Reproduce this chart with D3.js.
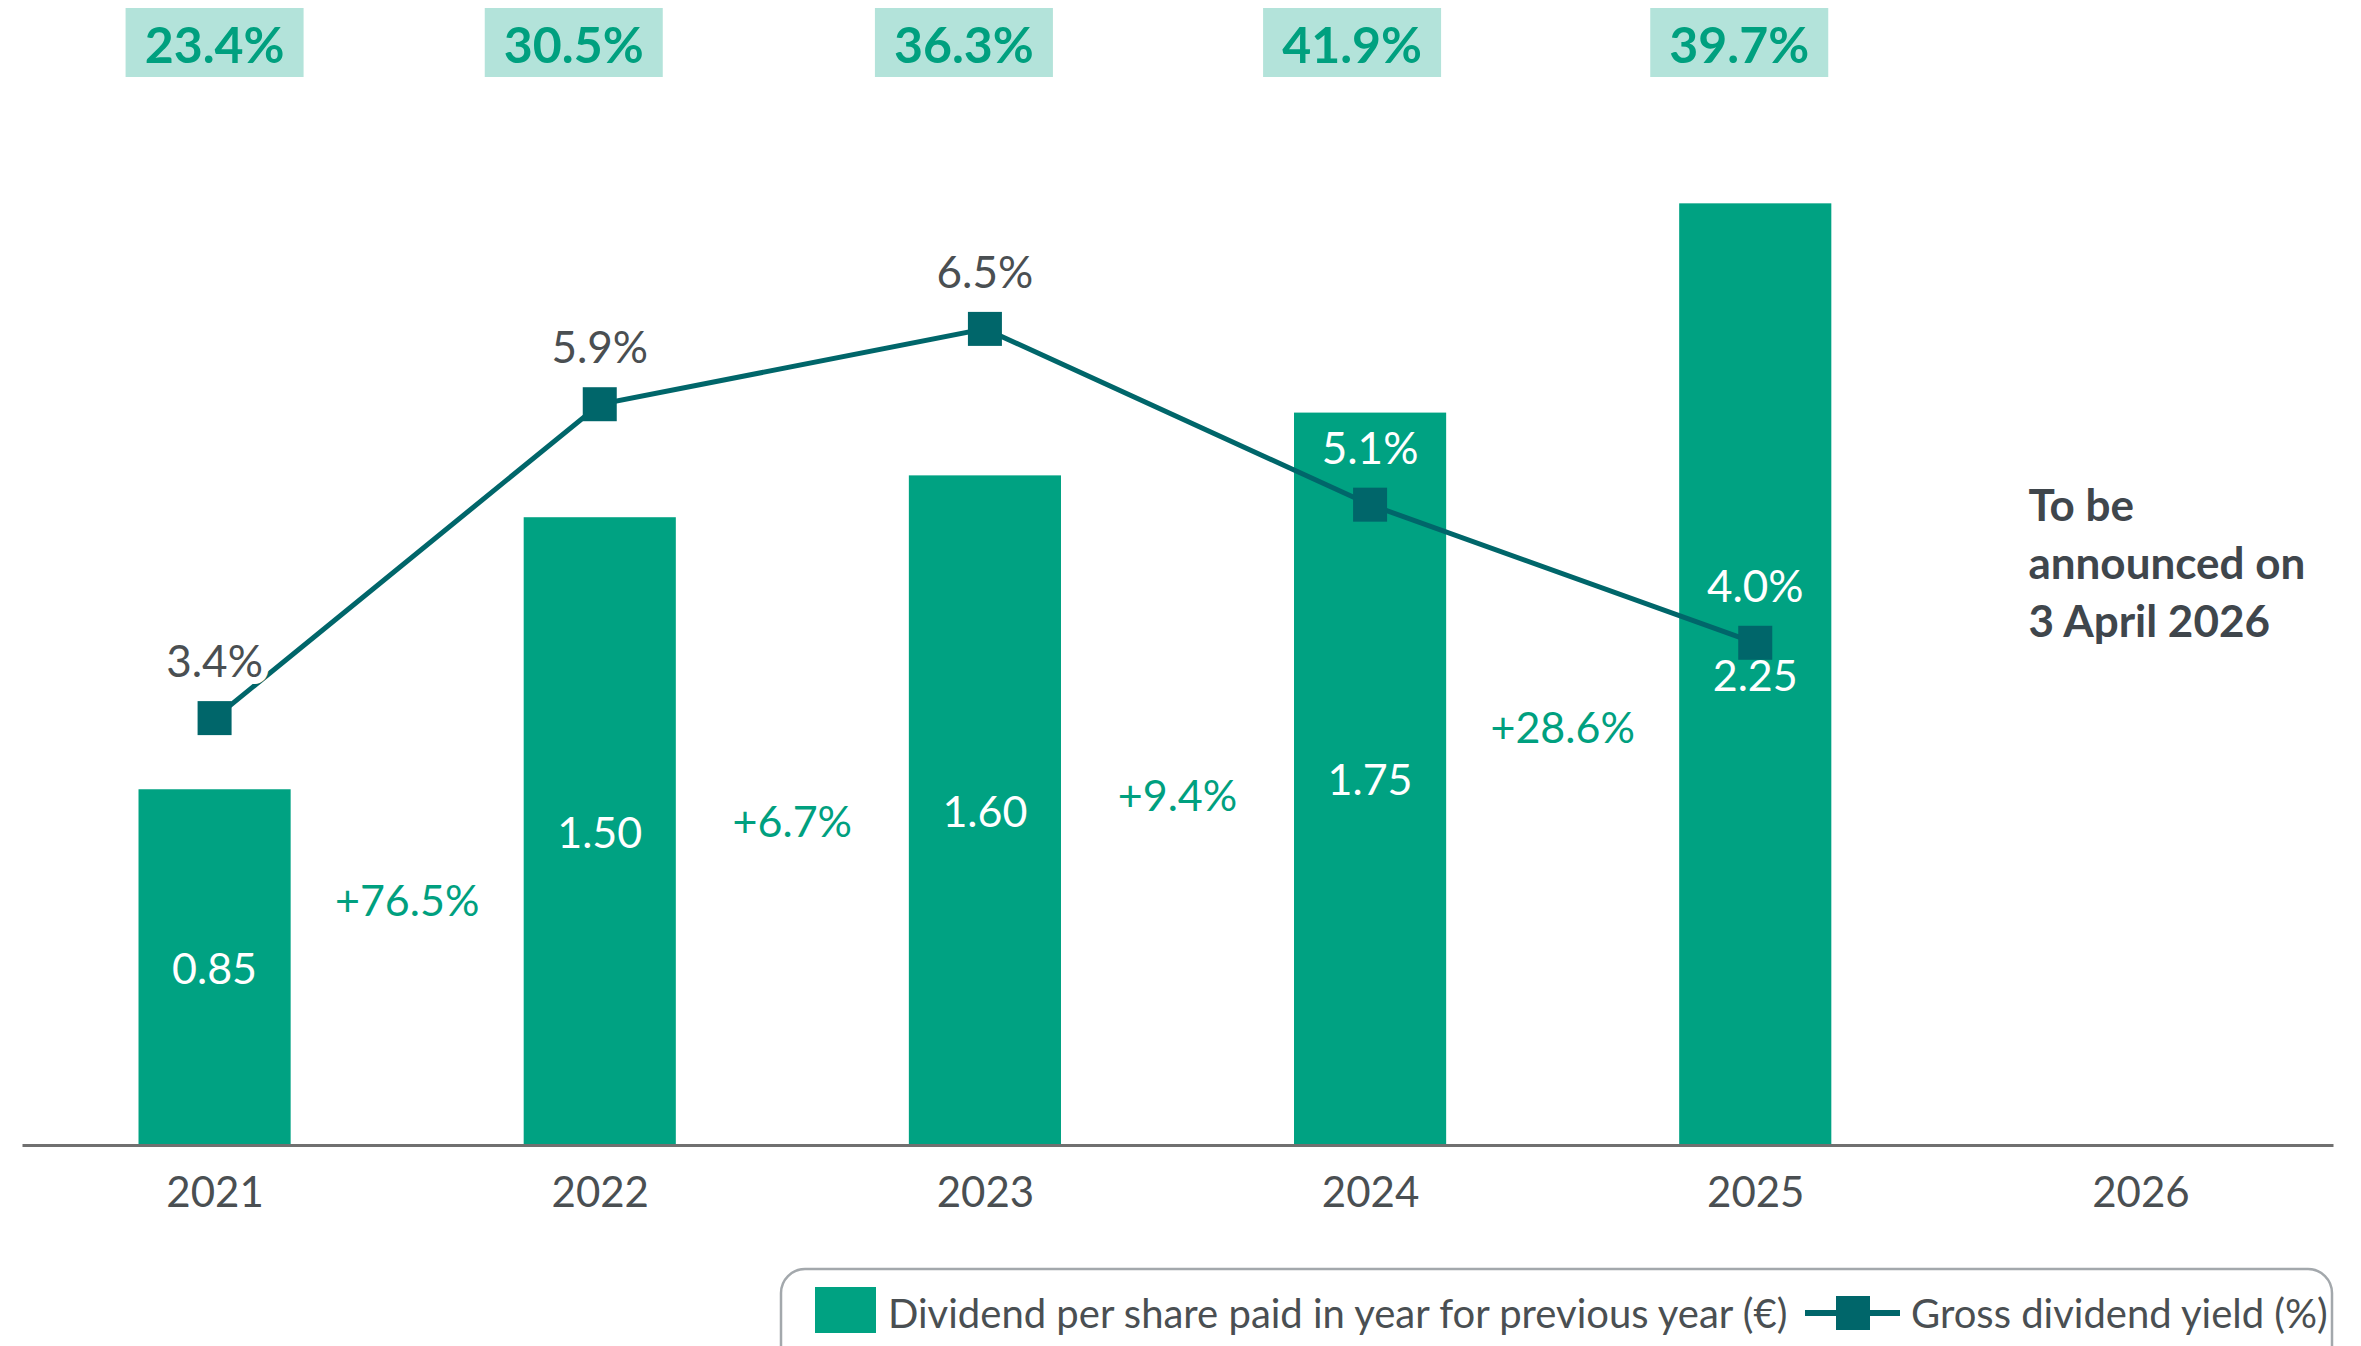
<!DOCTYPE html>
<html>
<head>
<meta charset="utf-8">
<script src="https://cdn.jsdelivr.net/npm/d3@7"></script>
<style>
  body { margin: 0; background: #fff; }
  text { font-family: Lato, "Open Sans", sans-serif; }
</style>
</head>
<body>
<div id="chart"></div>
<script>
// data
const years      = ["2021", "2022", "2023", "2024", "2025", "2026"];
const dividends  = [0.85, 1.50, 1.60, 1.75, 2.25];          // € per share
const divLabels  = ["0.85", "1.50", "1.60", "1.75", "2.25"];
const yields     = [3.4, 5.9, 6.5, 5.1, 4.0];                // gross dividend yield %
const yieldLabels = ["3.4%", "5.9%", "6.5%", "5.1%", "4.0%"];
const payout     = ["23.4%", "30.5%", "36.3%", "41.9%", "39.7%"];
const growth     = ["+76.5%", "+6.7%", "+9.4%", "+28.6%"];
const note       = ["To be", "announced on", "3 April 2026"];

// the payout boxes are hand placed in the original, a bit left of the bars
const payoutNudge = [0, -26, -21, -18, -16];

const W = 2361, H = 1346;
const barColor = "#00a282", lineColor = "#00666a", grey = "#4a4f52";

const svg = d3.select("#chart").append("svg")
    .attr("width", W)
    .attr("height", H);

    // scales
const x = d3.scalePoint()
    .domain(years)
    .range([22, 2333])
    .padding(0.5);

const barW = x.step() * 0.395;

const yBar = d3.scaleLinear().domain([0, 2.7]).range([1145, 15]);
const yLine = d3.scaleLinear().domain([0, 9]).range([1145, 15]);

const bars = years.slice(0, dividends.length).map((yr, i) => ({year: yr, v: dividends[i], label: divLabels[i]}));
const pts  = years.slice(0, yields.length).map((yr, i) => ({year: yr, v: yields[i], label: yieldLabels[i], bar: dividends[i]}));

    // payout boxes on top
const payoutG = svg.append("g");
payoutG.selectAll("rect")
    .data(payout)
    .enter()
    .append("rect")
    .attr("x", (d, i) => x(years[i]) + payoutNudge[i] - 89)
    .attr("y", 8)
    .attr("width", 178)
    .attr("height", 69)
    .attr("fill", "#b3e3da");
payoutG.selectAll("text")
    .data(payout)
    .enter()
    .append("text")
    .attr("x", (d, i) => x(years[i]) + payoutNudge[i])
    .attr("y", 44)
    .attr("text-anchor", "middle")
    .attr("dominant-baseline", "central")
    .attr("fill", "#00a07f")
    .style("font-size", "50px")
    .style("font-weight", "bold")
    .text(d => d);

    // bars
svg.selectAll(".bar")
    .data(bars)
    .enter()
    .append("rect")
    .attr("class", "bar")
    .attr("x", d => x(d.year) - barW / 2)
    .attr("y", d => yBar(d.v))
    .attr("width", barW)
    .attr("height", d => yBar(0) - yBar(d.v))
    .attr("fill", barColor);

    // bar value labels (centered in the bar)
svg.selectAll(".barlab")
    .data(bars)
    .enter()
    .append("text")
    .attr("x", d => x(d.year))
    .attr("y", d => yBar(d.v / 2))
    .attr("text-anchor", "middle")
    .attr("dominant-baseline", "central")
    .attr("fill", "white")
    .style("font-size", "43px")
    .text(d => d.label);

    // growth labels between bars
svg.selectAll(".growth")
    .data(growth)
    .enter()
    .append("text")
    .attr("x", (d, i) => (x(years[i]) + x(years[i + 1])) / 2)
    .attr("y", (d, i) => (yBar(dividends[i] / 2) + yBar(dividends[i + 1] / 2)) / 2)
    .attr("text-anchor", "middle")
    .attr("dominant-baseline", "central")
    .attr("fill", "#00a07f")
    .style("font-size", "43px")
    .text(d => d);

    // axis line + year labels
const axis = svg.append("g")
    .attr("transform", `translate(0,${yBar(0)})`)
    .call(d3.axisBottom(x).tickSize(0).tickPadding(32));
axis.select(".domain").attr("stroke", "#707070").attr("stroke-width", 3);
axis.selectAll(".tick text")
    .attr("fill", grey)
    .style("font-size", "42px")
    .style("font-family", "Lato, 'Open Sans', sans-serif");

    // yield line
const line = d3.line()
    .x(d => x(d.year))
    .y(d => yLine(d.v));

svg.append("path")
    .datum(pts)
    .attr("fill", "none")
    .attr("stroke", lineColor)
    .attr("stroke-width", 5)
    .attr("d", line);

svg.selectAll(".marker")
    .data(pts)
    .enter()
    .append("rect")
    .attr("x", d => x(d.year) - 17)
    .attr("y", d => yLine(d.v) - 17)
    .attr("width", 34)
    .attr("height", 34)
    .attr("fill", lineColor);

    // yield labels, white when they sit on a bar
svg.selectAll(".ylab")
    .data(pts)
    .enter()
    .append("text")
    .attr("x", d => x(d.year))
    .attr("y", d => yLine(d.v) - 58)
    .attr("text-anchor", "middle")
    .attr("dominant-baseline", "central")
    .style("font-size", "44px")
    .attr("fill", d => (yLine(d.v) - 58 > yBar(d.bar)) ? "white" : grey)
    .attr("stroke", d => (yLine(d.v) - 58 > yBar(d.bar)) ? "none" : "white")
    .attr("stroke-width", 14)
    .style("paint-order", "stroke")
    .text(d => d.label);

    // note for 2026
svg.append("g").selectAll("text")
    .data(note)
    .enter()
    .append("text")
    .attr("x", x("2026") - 112)
    .attr("y", (d, i) => 504 + i * 58)
    .attr("dominant-baseline", "central")
    .attr("fill", "#3f464c")
    .style("font-size", "44px")
    .style("font-weight", "bold")
    .text(d => d);

    // legend
const lg = svg.append("g");
lg.append("rect")
    .attr("x", 781)
    .attr("y", 1269)
    .attr("width", 1551)
    .attr("height", 120)
    .attr("rx", 24)
    .attr("fill", "white")
    .attr("stroke", "#a3a8ac")
    .attr("stroke-width", 2.5);
lg.append("rect")
    .attr("x", 815)
    .attr("y", 1287)
    .attr("width", 61)
    .attr("height", 46)
    .attr("fill", barColor);
lg.append("text")
    .attr("x", 888)
    .attr("y", 1313)
    .attr("dominant-baseline", "central")
    .attr("fill", grey)
    .style("font-size", "40px")
    .text("Dividend per share paid in year for previous year (€)");
lg.append("line")
    .attr("x1", 1805).attr("x2", 1900)
    .attr("y1", 1313).attr("y2", 1313)
    .attr("stroke", lineColor)
    .attr("stroke-width", 6);
lg.append("rect")
    .attr("x", 1836)
    .attr("y", 1296)
    .attr("width", 34)
    .attr("height", 34)
    .attr("fill", lineColor);
lg.append("text")
    .attr("x", 1911)
    .attr("y", 1313)
    .attr("dominant-baseline", "central")
    .attr("fill", grey)
    .style("font-size", "40px")
    .text("Gross dividend yield (%)");
</script>
</body>
</html>
